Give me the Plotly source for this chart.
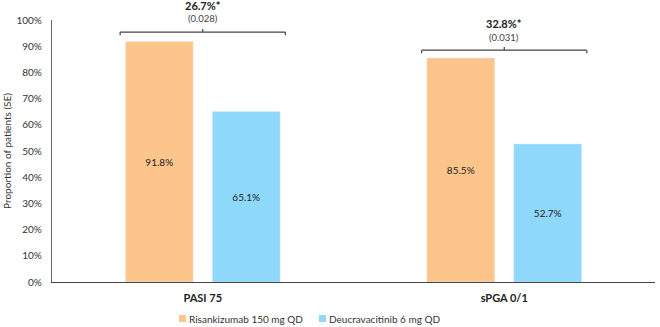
import plotly.graph_objects as go

categories = ["PASI 75", "sPGA 0/1"]
risankizumab = [0.918, 0.855]
deucravacitinib = [0.651, 0.527]
diff_labels = ["26.7%*", "32.8%*"]
se_labels = ["(0.028)", "(0.031)"]
bracket_levels = [0.954, 0.885]
series_names = ["Risankizumab 150 mg QD", "Deucravacitinib 6 mg QD"]

FONT = "Lato, Open Sans, sans-serif"
ORANGE = "#FDC48B"
BLUE = "#8ED8FB"
colors = [ORANGE, BLUE]

W, H = 660, 327
ML, MR, MT, MB = 52, 5, 20, 45
PW, PH = W - ML - MR, H - MT - MB

def px_x(p):
    return (p - ML) / PW

def px_y(p):
    return (H - MB - p) / PH

fig = go.Figure()
for name, vals, col in zip(series_names, [risankizumab, deucravacitinib], colors):
    fig.add_trace(go.Bar(
        x=categories, y=vals, name=name, marker_color=col,
        text=[f"{v*100:.1f}%" for v in vals], textposition="inside",
        insidetextanchor="middle", textfont=dict(color="#222", size=10, family=FONT),
        showlegend=False,
    ))

half = 0.274
tick = 0.012
for i, (lvl, d, se) in enumerate(zip(bracket_levels, diff_labels, se_labels)):
    line = dict(color="#444", width=1.2)
    fig.add_shape(type="line", xref="x", yref="paper", x0=i - half, x1=i + half, y0=lvl, y1=lvl, line=line)
    fig.add_shape(type="line", xref="x", yref="paper", x0=i - half, x1=i - half, y0=lvl, y1=lvl - tick, line=line)
    fig.add_shape(type="line", xref="x", yref="paper", x0=i + half, x1=i + half, y0=lvl, y1=lvl - tick, line=line)
    fig.add_shape(type="line", xref="x", yref="paper", x0=i, x1=i, y0=lvl, y1=lvl + tick, line=line)
    fig.add_annotation(x=i, y=lvl + 0.1, xref="x", yref="paper", text=f"<b>{d}</b>",
                       showarrow=False, font=dict(size=11, color="#222", family=FONT), yanchor="middle")
    fig.add_annotation(x=i, y=lvl + 0.05, xref="x", yref="paper", text=se,
                       showarrow=False, font=dict(size=9.5, color="#444", family=FONT), yanchor="middle")

# manual legend
legend_x = [179, 319]
for name, col, lx in zip(series_names, colors, legend_x):
    fig.add_shape(type="rect", xref="paper", yref="paper",
                  x0=px_x(lx), x1=px_x(lx + 7), y0=px_y(315), y1=px_y(322),
                  fillcolor=col, line=dict(width=0))
    fig.add_annotation(xref="paper", yref="paper", x=px_x(lx + 8), y=px_y(318.5),
                       text=name, showarrow=False, xanchor="left", yanchor="middle",
                       font=dict(size=10, family=FONT, color="#333"))

fig.update_layout(
    width=W, height=H,
    margin=dict(l=ML, r=MR, t=MT, b=MB),
    plot_bgcolor="white", paper_bgcolor="white",
    barmode="group", bargap=0.423, bargroupgap=0.22,
    font=dict(family=FONT, size=10, color="#333"),
    showlegend=False,
)
fig.update_xaxes(showline=True, linecolor="#444", linewidth=1.2, ticks="outside", ticklen=6,
                 tickcolor="rgba(0,0,0,0)", automargin=False,
                 tickfont=dict(size=11, family=FONT, color="#222"),
                 tickprefix="<b>", ticksuffix="</b>", showgrid=False)
fig.update_yaxes(range=[0, 1.0], dtick=0.1, tickformat=".0%", showline=True, linecolor="#666",
                 linewidth=1.2, showgrid=False, ticks="outside", ticklen=7, tickcolor="rgba(0,0,0,0)",
                 zeroline=False, automargin=False,
                 tickfont=dict(size=10, family=FONT, color="#333"),
                 title=dict(text="Proportion of patients (SE)", font=dict(size=10, family=FONT, color="#333"),
                            standoff=2))

fig.write_html("out.html", config={"displayModeBar": False},
               post_script="document.body.style.margin='0';")
